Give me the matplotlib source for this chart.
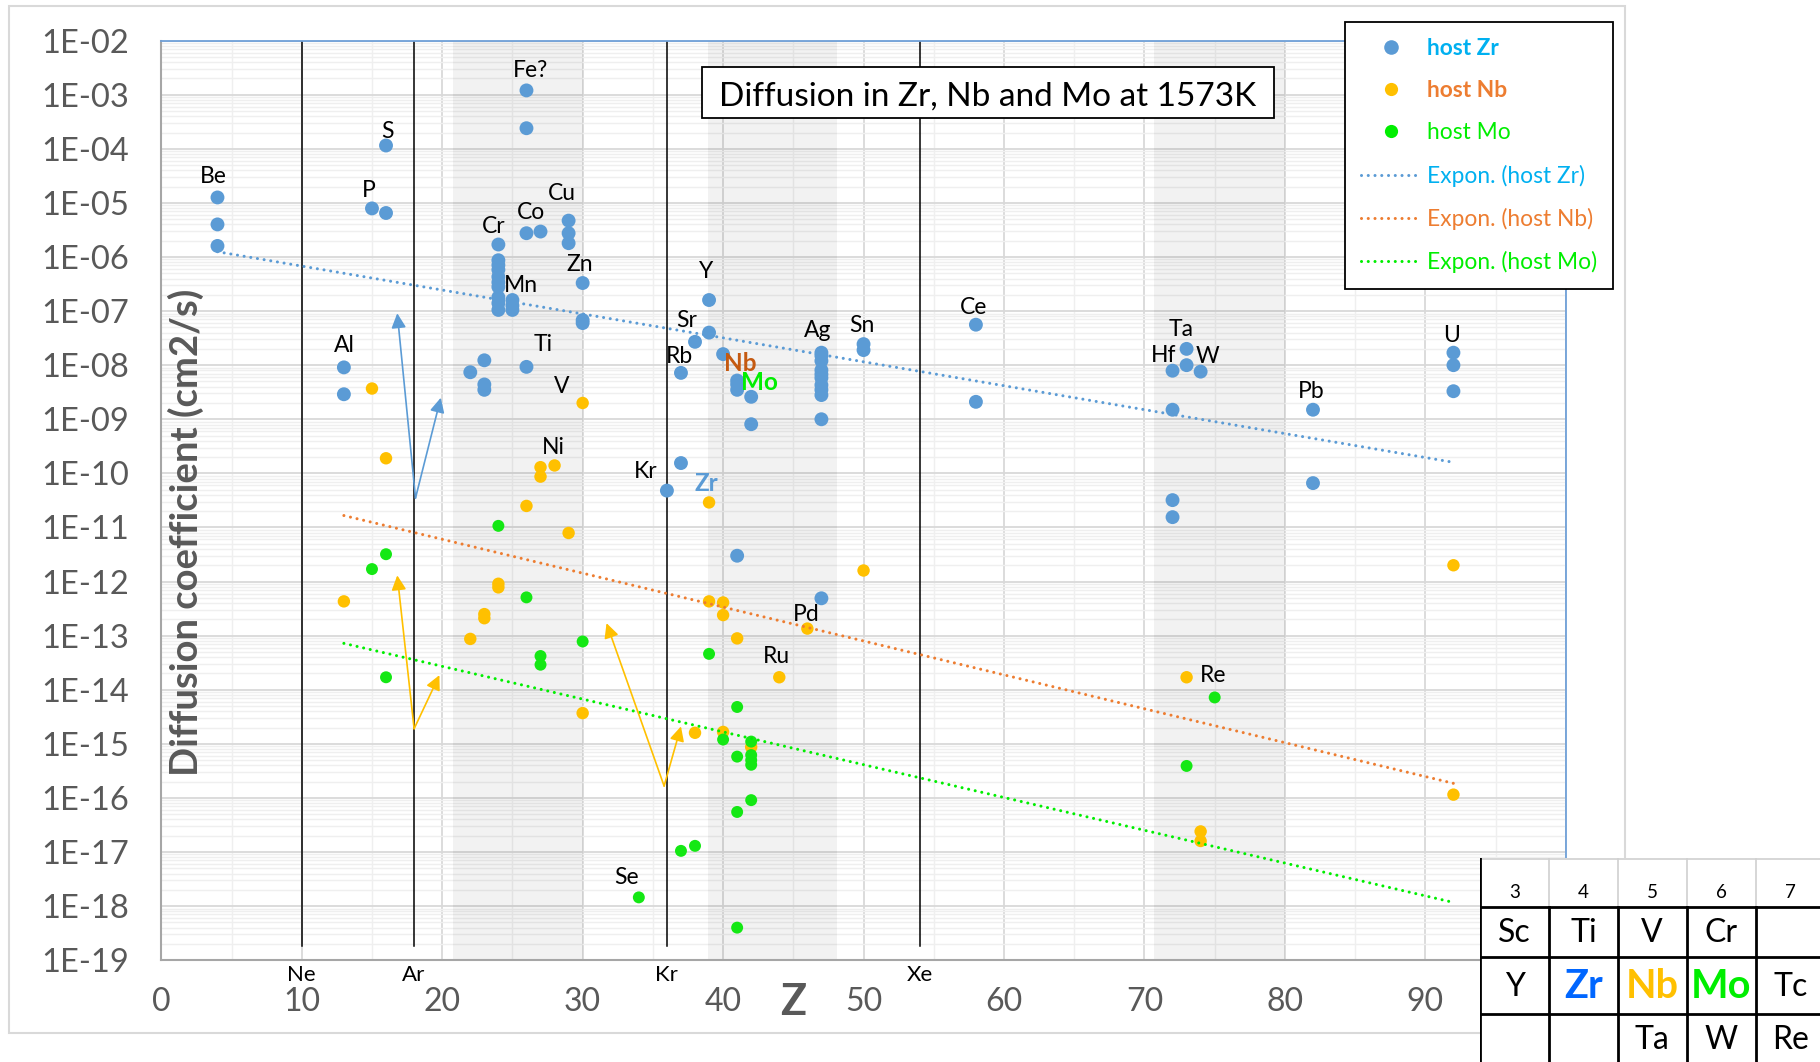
import matplotlib
matplotlib.use('Agg')
import matplotlib.pyplot as plt
import numpy as np
from matplotlib.lines import Line2D
from matplotlib.patches import Rectangle
from matplotlib.ticker import FixedLocator, FuncFormatter, MultipleLocator, NullFormatter

plt.rcParams['font.family'] = ['Lato', 'DejaVu Sans']

# ---- data: atomic number Z and diffusion coefficient D (cm2/s) ----
zr_z = [4, 4, 4, 13, 13, 15, 16, 16, 22, 23, 23, 23,
        24, 24, 24, 24, 24, 24, 24, 24, 24, 24, 25, 25, 25,
        26, 26, 26, 26, 27, 29, 29, 29, 30, 30, 30,
        36, 37, 37, 38, 39, 39, 40, 41, 41, 41, 41, 42, 42,
        47, 47, 47, 47, 47, 47, 47, 47, 47, 47, 47, 50, 50, 58, 58,
        72, 72, 72, 72, 73, 73, 74, 82, 82, 92, 92, 92]
zr_d = [1.26e-5, 4.0e-6, 1.6e-6, 9.1e-9, 2.9e-9, 7.9e-6, 1.15e-4, 6.5e-6, 7.4e-9, 1.23e-8, 4.4e-9, 3.5e-9,
        1.7e-6, 8.7e-7, 7.1e-7, 5.8e-7, 4.3e-7, 3.4e-7, 2.8e-7, 1.8e-7, 1.4e-7, 1.05e-7, 1.6e-7, 1.26e-7, 1.05e-7,
        1.2e-3, 2.4e-4, 2.75e-6, 9.3e-9, 2.95e-6, 4.7e-6, 2.75e-6, 1.8e-6, 3.3e-7, 6.8e-8, 6.0e-8,
        4.8e-11, 7.2e-9, 1.55e-10, 2.7e-8, 1.6e-7, 4.0e-8, 1.6e-8, 5.2e-9, 4.4e-9, 3.5e-9, 3.0e-12, 2.6e-9, 8.1e-10,
        1.7e-8, 1.5e-8, 1.2e-8, 8.1e-9, 6.8e-9, 5.8e-9, 4.3e-9, 3.5e-9, 2.8e-9, 1.0e-9, 4.9e-13, 2.45e-8, 1.9e-8,
        5.6e-8, 2.1e-9,
        7.9e-9, 1.5e-9, 3.2e-11, 1.55e-11, 2.0e-8, 1.0e-8, 7.6e-9, 1.5e-9, 6.6e-11, 1.7e-8, 1.0e-8, 3.3e-9]

nb_z = [13, 15, 16, 22, 23, 23, 24, 24, 26, 27, 27, 28, 29, 30, 30,
        38, 39, 39, 40, 40, 40, 41, 42, 44, 46, 50, 73, 74, 74, 92, 92]
nb_d = [4.3e-13, 3.7e-9, 1.9e-10, 8.7e-14, 2.5e-13, 2.1e-13, 9.1e-13, 7.8e-13, 2.5e-11, 1.3e-10, 8.7e-11,
        1.4e-10, 7.9e-12, 2.0e-9, 3.7e-15,
        1.6e-15, 2.9e-11, 4.3e-13, 4.1e-13, 2.4e-13, 1.66e-15, 8.9e-14, 8.7e-16, 1.7e-14, 1.35e-13, 1.6e-12,
        1.7e-14, 2.4e-17, 1.6e-17, 2.0e-12, 1.15e-16]

mo_z = [15, 16, 16, 24, 26, 27, 27, 30, 34, 37, 38, 39, 40,
        41, 41, 41, 41, 42, 42, 42, 42, 42, 73, 75]
mo_d = [1.7e-12, 3.2e-12, 1.7e-14, 1.07e-11, 5.1e-13, 4.2e-14, 2.9e-14, 7.8e-14, 1.45e-18, 1.05e-17, 1.3e-17,
        4.6e-14, 1.2e-15,
        4.8e-15, 5.8e-16, 5.5e-17, 4.0e-19, 1.1e-15, 6.2e-16, 5.0e-16, 4.1e-16, 9.1e-17, 3.9e-16, 7.2e-15]

# exponential trend lines (end points)
zr_fit_z, zr_fit_d = [4, 92], [1.25e-6, 1.6e-10]
nb_fit_z, nb_fit_d = [13, 92], [1.66e-11, 1.86e-16]
mo_fit_z, mo_fit_d = [13, 92], [7.2e-14, 1.17e-18]

# noble gases marked with vertical lines
noble_names = ['Ne', 'Ar', 'Kr', 'Xe']
noble_z = [10, 18, 36, 54]

# transition-metal rows (shaded bands)
bands = [(20.8, 30.0), (38.9, 48.1), (70.7, 80.0)]

# element labels (text, Z, D)
labels = [('Be', 3.7, 3.1e-5), ('S', 16.1, 2.1e-4), ('Fe?', 26.3, 2.75e-3), ('P', 14.8, 1.7e-5),
          ('Cu', 28.5, 1.5e-5), ('Co', 26.3, 6.6e-6), ('Cr', 23.7, 3.7e-6), ('Zn', 29.8, 7.2e-7),
          ('Mn', 25.6, 2.95e-7), ('Y', 38.8, 5.4e-7), ('Al', 13.0, 2.3e-8), ('Ti', 27.2, 2.4e-8),
          ('Sr', 37.4, 6.8e-8), ('Rb', 36.9, 1.45e-8), ('V', 28.5, 4.1e-9), ('Ag', 46.7, 4.4e-8),
          ('Sn', 49.9, 5.5e-8), ('Ce', 57.8, 1.15e-7), ('Ta', 72.6, 4.6e-8), ('Hf', 71.4, 1.5e-8),
          ('W', 74.5, 1.45e-8), ('Pb', 81.9, 3.2e-9), ('U', 91.9, 3.5e-8), ('Ni', 27.9, 2.95e-10),
          ('Kr', 34.5, 1.1e-10), ('Pd', 45.9, 2.5e-13), ('Ru', 43.8, 4.1e-14), ('Re', 74.9, 1.8e-14),
          ('Se', 33.1, 3.4e-18)]
host_labels = [('Nb', 41.2, 1.07e-8, '#C55A11'), ('Mo', 42.6, 4.7e-9, '#00EE00'),
               ('Zr', 38.8, 6.6e-11, '#5B9BD5')]

# arrows (base Z, base D, tip Z, tip D, colour)
arrows = [(18.1, 3.5e-11, 16.8, 9.1e-8, '#5B9BD5'), (18.1, 3.5e-11, 19.9, 2.5e-9, '#5B9BD5'),
          (18.0, 1.9e-15, 16.8, 1.3e-12, '#FFC000'), (18.0, 1.9e-15, 19.8, 1.86e-14, '#FFC000'),
          (35.8, 1.66e-16, 31.7, 1.7e-13, '#FFC000'), (35.8, 1.66e-16, 37.0, 2.1e-15, '#FFC000')]

# periodic table inset
group_nums = ['3', '4', '5', '6', '7']
table_rows = [['Sc', 'Ti', 'V', 'Cr', ''],
              ['Y', 'Zr', 'Nb', 'Mo', 'Tc'],
              ['', '', 'Ta', 'W', 'Re']]

BLUE, ORANGE, GREEN = '#5B9BD5', '#FFC000', '#14E814'
GRAY_TXT = '#595959'

fig = plt.figure(figsize=(18.2, 10.62), dpi=100)
W, H = 1820, 1062

# chart-area frame
fig.patches.append(Rectangle((9 / W, 1 - 1033 / H), 1616 / W, 1027 / H, transform=fig.transFigure,
                             facecolor='none', edgecolor='#D9D9D9', lw=1.5, zorder=0))

ax = fig.add_axes([161.3 / W, 1 - 960.2 / H, 1404.5 / W, 919.6 / H])
ax.set_yscale('log')
ax.set_xlim(0, 100)
ax.set_ylim(1e-19, 1e-2)
ax.set_axisbelow(True)

ax.yaxis.set_major_locator(FixedLocator([10.0 ** k for k in range(-19, -1)]))
ax.yaxis.set_major_formatter(FuncFormatter(lambda v, p: '1E-%02d' % int(round(-np.log10(v)))))
ax.yaxis.set_minor_locator(FixedLocator([m * 10.0 ** k for k in range(-19, -2) for m in range(2, 10)]))
ax.yaxis.set_minor_formatter(NullFormatter())
ax.xaxis.set_major_locator(MultipleLocator(10))
# the "100" label sits under the periodic-table picture in the original
ax.xaxis.set_major_formatter(FuncFormatter(lambda v, p: '' if v > 95 else '%d' % v))
ax.xaxis.set_minor_locator(MultipleLocator(5))
ax.grid(which='major', color='#D9D9D9', lw=1.3)
ax.grid(which='minor', color='#EFEFEF', lw=1.0)
ax.tick_params(which='both', length=0)
ax.tick_params(axis='y', labelsize=23.5, labelcolor=GRAY_TXT, pad=23)
ax.tick_params(axis='x', labelsize=23, labelcolor=GRAY_TXT, pad=19)
for s in ['top', 'right']:
    ax.spines[s].set_color('#6FA0D8')
    ax.spines[s].set_linewidth(1.3)
for s in ['left', 'bottom']:
    ax.spines[s].set_color('#A6A6A6')
    ax.spines[s].set_linewidth(1.5)

for z0, z1 in bands:
    ax.axvspan(z0, z1, color='black', alpha=0.05, lw=0, zorder=0.6)
for name, z in zip(noble_names, noble_z):
    ax.axvline(z, ymin=0.015, ymax=1.0, color='black', lw=1.1, zorder=1)
    ax.text(z, -0.016, name, transform=ax.get_xaxis_transform(), ha='center', va='center',
            fontsize=16, color='black')

ax.scatter(zr_z, zr_d, s=100, color=BLUE, edgecolors='none', zorder=3)
ax.scatter(nb_z, nb_d, s=80, color=ORANGE, edgecolors='none', zorder=3)
ax.scatter(mo_z, mo_d, s=74, color=GREEN, edgecolors='none', zorder=3)

dot = dict(ls=(0, (0.01, 2.2)), lw=2.2, dash_capstyle='round', zorder=4)
ax.plot(zr_fit_z, zr_fit_d, color=BLUE, **dot)
ax.plot(nb_fit_z, nb_fit_d, color='#ED7D31', **dot)
ax.plot(mo_fit_z, mo_fit_d, color='#00EE00', **dot)

for z0, d0, z1, d1, c in arrows:
    ax.annotate('', xy=(z1, d1), xytext=(z0, d0),
                arrowprops=dict(arrowstyle='-|>', color=c, lw=1.2, mutation_scale=22,
                                shrinkA=0, shrinkB=0), zorder=5)

for txt, z, d in labels:
    ax.text(z, d, txt, ha='center', va='center', fontsize=16.5, color='black', zorder=6)
for txt, z, d, c in host_labels:
    ax.text(z, d, txt, ha='center', va='center', fontsize=17.5, color=c, fontweight='bold', zorder=6)

ax.text(0.0176, 0.4657, 'Diffusion coefficient (cm2/s)', transform=ax.transAxes, rotation=90,
        ha='center', va='center', fontsize=27.5, fontweight='bold', color=GRAY_TXT)
ax.text(45, -0.045, 'Z', transform=ax.get_xaxis_transform(), ha='center', va='center',
        fontsize=31, fontweight='bold', color=GRAY_TXT)

# title box
fig.patches.append(Rectangle((702 / W, 1 - 118 / H), 572 / W, 51 / H, transform=fig.transFigure,
                             facecolor='white', edgecolor='black', lw=1.3, zorder=5))
fig.text(988 / W, 1 - 97 / H, 'Diffusion in Zr, Nb and Mo at 1573K', ha='center', va='center',
         fontsize=24, color='black', zorder=6)

# legend
handles = [Line2D([], [], ls='none', marker='o', ms=10.5, color=BLUE, mec='none'),
           Line2D([], [], ls='none', marker='o', ms=9.5, color=ORANGE, mec='none'),
           Line2D([], [], ls='none', marker='o', ms=9.5, color='#00EE00', mec='none'),
           Line2D([], [], color=BLUE, **dot),
           Line2D([], [], color='#ED7D31', **dot),
           Line2D([], [], color='#00EE00', **dot)]
names = ['host Zr', 'host Nb', 'host Mo', 'Expon. (host Zr)', 'Expon. (host Nb)', 'Expon. (host Mo)']
leg = fig.legend(handles, names, loc='upper left', bbox_to_anchor=(1345 / W, 1 - 22 / H),
                 fontsize=16.4, frameon=True, fancybox=False, edgecolor='black', framealpha=1,
                 borderpad=0.7, labelspacing=0.93, handlelength=2.65, handletextpad=0.25,
                 borderaxespad=0)
leg.get_frame().set_linewidth(1.3)
leg.set_zorder(7)
for t, c, w in zip(leg.get_texts(), ['#00B0F0', '#ED7D31', '#00EE00', '#00B0F0', '#ED7D31', '#00EE00'],
                   ['bold', 'bold', 'normal', 'normal', 'normal', 'normal']):
    t.set_color(c)
    t.set_fontweight(w)

# periodic table inset
tab = fig.add_axes([1480 / W, 0, 340 / W, 204 / H], zorder=8)
tab.set_xlim(0, 340)
tab.set_ylim(204, 0)
tab.axis('off')
tab.add_patch(Rectangle((0, 0), 340, 204, facecolor='white', edgecolor='none', zorder=0))
cols = [0, 69, 137.7, 206.7, 275.7, 344.7]
tab.plot([0, 340], [0.5, 0.5], color='#D0D0D0', lw=1.2)
for x in cols[1:]:
    tab.plot([x, x], [0, 49], color='#D0D0D0', lw=1.2)
for y in [49, 99, 156]:
    tab.plot([0, 340], [y, y], color='black', lw=2.0)
for x in cols:
    tab.plot([x, x], [0 if x == 0 else 49, 204], color='black', lw=2.0)
sym_colors = {'Zr': '#0066FF', 'Nb': '#FFC000', 'Mo': '#00EE00'}
for i, g in enumerate(group_nums):
    cx = (cols[i] + cols[i + 1]) / 2
    tab.text(cx, 34, g, ha='center', va='center', fontsize=13.5, color='black')
for r, row in enumerate(table_rows):
    cy = [75, 129, 182][r]
    for i, sym in enumerate(row):
        cx = (cols[i] + cols[i + 1]) / 2
        if sym in sym_colors:
            tab.text(cx, cy, sym, ha='center', va='center', fontsize=28.5, fontweight='bold',
                     color=sym_colors[sym])
        elif sym:
            tab.text(cx, cy, sym, ha='center', va='center', fontsize=23, color='black')

fig.savefig('out.png', dpi=100)
